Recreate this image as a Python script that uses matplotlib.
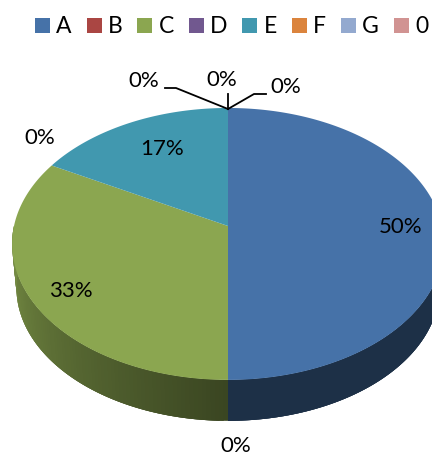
import numpy as np
import matplotlib
matplotlib.use('Agg')
import matplotlib.pyplot as plt
from matplotlib.patches import Patch

categories = ['A', 'B', 'C', 'D', 'E', 'F', 'G', '0']
values = [50, 0, 33, 0, 17, 0, 0, 0]
colors = ['#4672A8', '#AA4643', '#8BA650', '#71588F', '#4198AF', '#DB843D', '#93A9CF', '#D19392']

# label text and where it sits, in pixels of the 432x455 picture
pct_labels = ['50%', '33%', '17%', '0%', '0%', '0%', '0%', '0%']
pct_x = [401, 71, 162, 40, 144, 222, 286, 236]
pct_y = [227, 291, 149, 138, 81, 80, 87, 446]

# pie geometry
cx, cy = 228, 226
R = 214
a = 133.6
k = -0.132
drop = 44
shrink = 0.98


def project(deg, scale=1.0, dy=0.0):
    # deg is clockwise from the top of the pie, with a little perspective
    t = np.radians(deg)
    u = np.sin(t)
    v = -np.cos(t)
    d = 1 + k * v
    return cx + scale * R * u / d, cy + dy + scale * a * v / d


def shade(deg, color):
    rgb = np.array(matplotlib.colors.to_rgb(color))
    f = 0.42 if deg <= 180 else 0.42 + 0.45 * (deg - 180) / 90
    return tuple(rgb * f)


fig = plt.figure(figsize=(4.32, 4.55), dpi=100)
ax = fig.add_axes([0, 0, 1, 1])
ax.set_xlim(0, 432)
ax.set_ylim(455, 0)
ax.axis('off')
plt.rcParams['font.family'] = ['Lato', 'DejaVu Sans']

bounds = np.concatenate([[0], np.cumsum(values)]) * 3.6

# side of the pie first, only the part facing us
# each strip runs on under the next one so no seams show
for i in range(len(values)):
    start = max(bounds[i], 90)
    stop = min(bounds[i + 1], 270)
    if stop <= start:
        continue
    edges = np.arange(start, stop, 1.0)
    for d0 in edges:
        d1 = min(d0 + 3, stop)
        th = np.linspace(d0, d1, 6)
        x0, y0 = project(th)
        x1, y1 = project(th[::-1], shrink, drop)
        ax.fill(np.r_[x0, x1], np.r_[y0, y1], color=shade(d0, colors[i]), lw=0)

# top face
for i in range(len(values)):
    if values[i] == 0:
        continue
    th = np.linspace(bounds[i], bounds[i + 1], 200)
    x, y = project(th)
    ax.fill(np.r_[cx, x], np.r_[cy, y], color=colors[i], lw=0)

for s, x, y in zip(pct_labels, pct_x, pct_y):
    ax.text(x, y, s, fontsize=16, ha='center', va='center', color='black')

# leader lines of the small labels
ax.plot([165, 176, 228], [88, 88, 109], color='black', lw=1.3)
ax.plot([228, 228], [94, 109], color='black', lw=1.3)
ax.plot([228, 254, 266], [109, 94, 94], color='black', lw=1.3)

handles = [Patch(facecolor=c, label=n) for c, n in zip(colors, categories)]
ax.legend(handles=handles, ncol=8, loc='center left', bbox_to_anchor=(0.081, 0.941),
          frameon=False, fontsize=16.5, handlelength=0.655, handleheight=0.655,
          handletextpad=0.28, columnspacing=0.64, borderpad=0, borderaxespad=0)

fig.savefig('out.png', dpi=100)
